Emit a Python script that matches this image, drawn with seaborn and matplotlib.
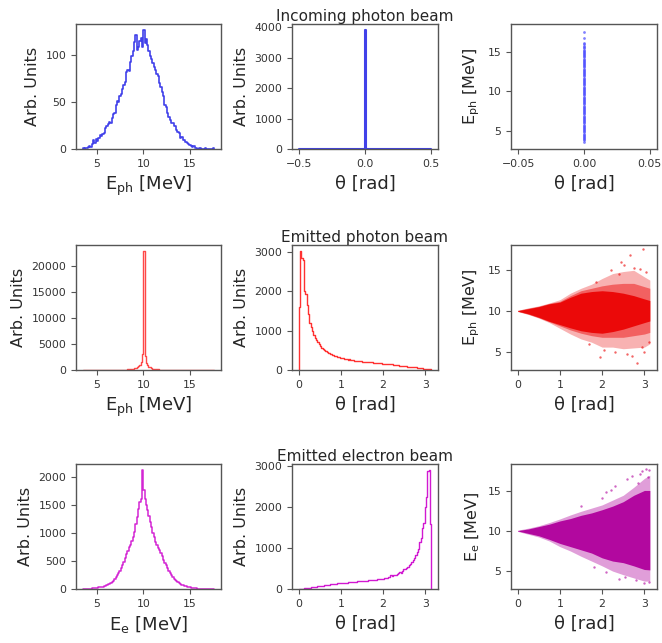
import numpy as np
import matplotlib
matplotlib.use("Agg")
import matplotlib.pyplot as plt
import seaborn as sns

# ---------------- data ----------------
# energy binning (MeV) used by all energy histograms
E_range = (3.5, 17.6)
n_bins = 100
theta_range = (0.0, 3.1416)
theta_in_range = (-0.5, 0.5)

# Incoming photon beam: energy histogram counts
E_ph_in_counts = [
    1, 0, 1, 1, 2, 3, 2, 5, 9, 6,
    11, 8, 12, 15, 14, 16, 17, 22, 24, 26,
    29, 28, 33, 37, 38, 47, 51, 50, 56, 58,
    63, 68, 71, 81, 84, 83, 92, 98, 104, 113,
    121, 105, 108, 114, 117, 108, 126, 112, 116, 110,
    104, 98, 95, 91, 87, 84, 79, 77, 70, 66,
    60, 56, 47, 44, 38, 34, 31, 28, 27, 24,
    24, 20, 18, 17, 12, 13, 10, 9, 7, 6,
    5, 4, 3, 2, 3, 1, 1, 0, 1, 1,
    0, 0, 0, 1, 0, 0, 0, 0, 0, 1,
]
# Incoming photon beam: all photons at theta = 0
theta_ph_in_peak = 3910

# Emitted photon beam: energy histogram counts
E_ph_out_counts = [
    0, 0, 0, 0, 0, 0, 0, 0, 0, 0,
    0, 0, 0, 0, 0, 0, 0, 0, 0, 0,
    0, 0, 0, 0, 0, 0, 0, 0, 20, 30,
    40, 50, 60, 80, 100, 120, 150, 190, 240, 310,
    400, 520, 700, 1000, 1600, 3100, 22900, 2700, 1400, 900,
    650, 480, 360, 280, 220, 170, 130, 100, 80, 60,
    45, 35, 25, 15, 10, 5, 3, 2, 1, 0,
    0, 0, 0, 0, 0, 0, 0, 0, 0, 0,
    0, 0, 0, 0, 0, 0, 0, 0, 0, 0,
    0, 0, 0, 0, 0, 0, 0, 0, 0, 0,
]
# Emitted photon beam: theta histogram counts
theta_ph_out_counts = [
    1600, 3020, 2830, 2800, 2000, 1920, 1650, 1420, 1200, 1080,
    980, 900, 820, 770, 700, 660, 610, 560, 530, 500,
    470, 450, 430, 420, 400, 385, 375, 365, 350, 340,
    320, 315, 300, 295, 290, 280, 270, 265, 275, 255,
    250, 260, 240, 235, 230, 235, 225, 220, 215, 215,
    210, 205, 200, 200, 195, 190, 185, 185, 180, 175,
    170, 170, 165, 160, 160, 155, 150, 150, 145, 140,
    140, 135, 130, 125, 120, 118, 112, 108, 105, 100,
    98, 92, 88, 84, 80, 75, 72, 68, 64, 60,
    55, 50, 45, 40, 35, 30, 25, 20, 17, 15,
]

# Emitted electron beam: energy histogram counts
E_e_counts = [
    0, 1, 0, 2, 3, 5, 6, 10, 14, 20,
    24, 25, 28, 34, 38, 42, 50, 58, 68, 80,
    92, 105, 125, 150, 175, 210, 250, 285, 320, 370,
    420, 480, 560, 620, 680, 740, 780, 850, 920, 1020,
    1150, 1280, 1420, 1540, 1600, 2118, 1760, 1600, 1500, 1400,
    1300, 1200, 1100, 1000, 920, 840, 780, 730, 700, 640,
    580, 520, 470, 420, 370, 320, 290, 250, 215, 185,
    160, 140, 120, 105, 90, 78, 68, 58, 50, 42,
    36, 30, 25, 20, 16, 12, 10, 8, 6, 5,
    4, 3, 2, 2, 1, 2, 1, 0, 1, 1,
]
# Emitted electron beam: theta histogram counts
theta_e_counts = [
    1, 3, 6, 10, 15, 20, 25, 30, 35, 40,
    45, 50, 55, 60, 65, 70, 75, 80, 85, 90,
    95, 100, 104, 108, 112, 118, 122, 125, 130, 135,
    140, 145, 148, 150, 152, 155, 158, 162, 175, 168,
    170, 172, 178, 180, 195, 185, 188, 192, 195, 198,
    200, 205, 210, 215, 218, 220, 215, 228, 232, 235,
    240, 245, 250, 245, 265, 275, 280, 290, 300, 330,
    320, 330, 340, 350, 370, 380, 420, 400, 440, 480,
    500, 510, 540, 580, 610, 650, 700, 760, 820, 900,
    980, 1150, 1250, 1500, 1620, 2000, 2260, 2880, 2912, 1600,
]

# Scatter clouds: envelopes of E vs theta (dense core, medium band, sparse halo)
cloud_theta = [0.0, 0.25, 0.5, 0.75, 1.0, 1.25, 1.5, 1.75, 2.0, 2.25, 2.5, 2.75, 3.0, 3.13]
ph_core_hi = [10.05, 10.3, 10.55, 10.9, 11.1, 11.7, 12.2, 12.4, 12.5, 12.4, 12.2, 11.9, 11.5, 11.3]
ph_core_lo = [10.0, 9.68, 9.25, 8.75, 8.35, 7.95, 7.6, 7.4, 7.3, 7.5, 7.8, 8.2, 8.6, 8.8]
ph_mid_hi = [10.1, 10.35, 10.6, 10.95, 11.2, 11.9, 12.5, 12.8, 13.1, 13.3, 13.4, 13.4, 13.0, 12.8]
ph_mid_lo = [9.98, 9.63, 9.2, 8.7, 8.2, 7.7, 7.3, 7.0, 6.8, 6.8, 6.8, 7.0, 7.2, 7.4]
ph_halo_hi = [10.1, 10.4, 10.65, 11.0, 11.4, 12.2, 12.8, 13.3, 14.0, 14.6, 14.85, 15.0, 14.2, 13.8]
ph_halo_lo = [9.95, 9.6, 9.15, 8.6, 7.9, 7.2, 6.6, 6.2, 5.6, 5.6, 5.4, 5.5, 5.6, 6.0]
ph_out_theta = [2.98, 2.66, 2.44, 2.52, 2.20, 2.75, 2.90, 3.05, 1.96, 2.82, 2.30, 2.60, 1.70, 2.05, 2.95, 3.10, 2.40, 1.85, 2.70, 3.00]
ph_out_E = [17.6, 16.9, 16.0, 15.6, 15.0, 15.3, 15.1, 14.8, 4.4, 3.6, 5.0, 4.8, 6.0, 5.3, 5.6, 6.2, 14.6, 13.6, 4.5, 5.0]

e_core_hi = [10.1, 10.3, 10.6, 10.9, 11.3, 11.6, 12.0, 12.3, 12.7, 13.15, 13.7, 14.5, 15.1, 15.1]
e_core_lo = [10.05, 9.75, 9.45, 9.0, 8.5, 8.1, 7.7, 7.3, 6.7, 6.3, 6.1, 5.7, 5.25, 5.2]
e_halo_hi = [10.15, 10.4, 10.7, 11.1, 11.55, 12.05, 12.5, 12.9, 13.3, 13.9, 14.5, 15.5, 16.6, 17.0]
e_halo_lo = [10.0, 9.65, 9.3, 8.8, 8.1, 7.55, 6.9, 6.3, 5.7, 5.05, 4.6, 4.2, 3.8, 3.8]
e_out_theta = [3.05, 3.10, 2.95, 2.90, 2.60, 2.30, 2.10, 2.00, 3.00, 2.80, 2.40, 2.10, 1.80, 3.12, 2.70, 1.50, 2.85, 3.08, 2.55, 2.20]
e_out_E = [17.8, 17.6, 17.5, 17.2, 16.5, 15.6, 14.9, 14.1, 3.6, 3.9, 4.1, 4.9, 5.6, 3.7, 16.9, 13.2, 16.0, 16.8, 4.3, 15.2]

titles = ["Incoming photon beam", "Emitted photon beam", "Emitted electron beam"]

# ---------------- style ----------------
sns.set_style("ticks")
plt.rcParams["font.family"] = ["DejaVu Sans"]
plt.rcParams.update({
    "axes.edgecolor": "#555555",
    "axes.linewidth": 1.0,
    "xtick.color": "#555555",
    "ytick.color": "#555555",
    "xtick.labelcolor": "#333333",
    "ytick.labelcolor": "#333333",
    "xtick.labelsize": 7.8,
    "ytick.labelsize": 7.8,
    "xtick.major.size": 3.5,
    "ytick.major.size": 3.5,
})

BLUE = "#1f1fe6"
RED = "#ff1a1a"
MAG = "#cc00cc"
MAG_CLOUD = "#b0009c"
RED_CLOUD = "#eb0000"

fig = plt.figure(figsize=(6.62, 6.43), dpi=100)
lefts = [0.1148, 0.4411, 0.7719]
widths = [0.2190, 0.2205, 0.2205]
bottoms = [0.7683, 0.4246, 0.0840]
h = 0.1944
axs = [[fig.add_axes([lefts[c], bottoms[r], widths[c], h]) for c in range(3)] for r in range(3)]


def step_hist(ax, lo, hi, counts, color, lw=1.2, alpha=0.85):
    """Step outline of a histogram (like matplotlib histtype='step')."""
    counts = np.asarray(counts, dtype=float)
    edges = np.linspace(lo, hi, len(counts) + 1)
    xs = np.concatenate([[edges[0]], edges, [edges[-1]]])
    ys = np.concatenate([[0.0], counts, [counts[-1]], [0.0]])
    sns.lineplot(x=xs, y=ys, drawstyle="steps-post", estimator=None, sort=False,
                 color=color, linewidth=lw, alpha=alpha, ax=ax)
    ax.set_ylim(0, counts.max() * 1.05)


def xl(ax, text):
    ax.set_xlabel(text, fontsize=13, labelpad=4)


def yl(ax, text):
    ax.set_ylabel(text, fontsize=11.5, labelpad=4)


E_xlim = (2.795, 18.305)
th_xlim = (-0.157, 3.299)

# Row 1: incoming photons
ax = axs[0][0]
step_hist(ax, *E_range, E_ph_in_counts, BLUE)
ax.set_xlim(*E_xlim)
ax.set_xticks([5, 10, 15]); ax.set_yticks([0, 50, 100])
xl(ax, r"E$_{\mathregular{ph}}$ [MeV]"); yl(ax, "Arb. Units")

ax = axs[0][1]
th_in_counts = np.zeros(n_bins)
th_in_counts[n_bins // 2] = theta_ph_in_peak
step_hist(ax, *theta_in_range, th_in_counts, BLUE, lw=1.5)
ax.set_xlim(-0.55, 0.55)
ax.set_xticks([-0.5, 0.0, 0.5]); ax.set_yticks([0, 1000, 2000, 3000, 4000])
xl(ax, "θ [rad]"); yl(ax, "Arb. Units")

ax = axs[0][2]
E_edges = np.linspace(*E_range, n_bins + 1)
E_centers = 0.5 * (E_edges[:-1] + E_edges[1:])
mask = np.asarray(E_ph_in_counts) > 0
sns.scatterplot(x=np.zeros(mask.sum()), y=E_centers[mask], s=4, color="#4d4dff",
                alpha=0.7, linewidth=0, ax=ax)
ax.set_xlim(-0.0555, 0.0555); ax.set_ylim(2.75, 18.5)
ax.set_xticks([-0.05, 0.0, 0.05]); ax.set_yticks([5, 10, 15])
xl(ax, "θ [rad]"); yl(ax, r"E$_{\mathregular{ph}}$ [MeV]")

# Row 2: emitted photons
ax = axs[1][0]
step_hist(ax, *E_range, E_ph_out_counts, RED, lw=1.0, alpha=0.8)
ax.set_xlim(*E_xlim)
ax.set_xticks([5, 10, 15]); ax.set_yticks([0, 5000, 10000, 15000, 20000])
xl(ax, r"E$_{\mathregular{ph}}$ [MeV]"); yl(ax, "Arb. Units")

ax = axs[1][1]
step_hist(ax, *theta_range, theta_ph_out_counts, RED, lw=1.0, alpha=0.9)
ax.set_xlim(*th_xlim)
ax.set_xticks([0, 1, 2, 3]); ax.set_yticks([0, 1000, 2000, 3000])
xl(ax, "θ [rad]"); yl(ax, "Arb. Units")

ax = axs[1][2]
ax.fill_between(cloud_theta, ph_halo_lo, ph_halo_hi, color=RED_CLOUD, alpha=0.3, linewidth=0)
ax.fill_between(cloud_theta, ph_mid_lo, ph_mid_hi, color=RED_CLOUD, alpha=0.45, linewidth=0)
ax.fill_between(cloud_theta, ph_core_lo, ph_core_hi, color=RED_CLOUD, alpha=0.9, linewidth=0)
sns.scatterplot(x=ph_out_theta, y=ph_out_E, s=3, color=RED_CLOUD, alpha=0.6, linewidth=0, ax=ax)
ax.set_xlim(*th_xlim); ax.set_ylim(2.8, 18.1)
ax.set_xticks([0, 1, 2, 3]); ax.set_yticks([5, 10, 15])
xl(ax, "θ [rad]"); yl(ax, r"E$_{\mathregular{ph}}$ [MeV]")

# Row 3: emitted electrons
ax = axs[2][0]
step_hist(ax, *E_range, E_e_counts, MAG, lw=1.1, alpha=0.85)
ax.set_xlim(*E_xlim)
ax.set_xticks([5, 10, 15]); ax.set_yticks([0, 500, 1000, 1500, 2000])
xl(ax, r"E$_{\mathregular{e}}$ [MeV]"); yl(ax, "Arb. Units")

ax = axs[2][1]
step_hist(ax, *theta_range, theta_e_counts, MAG, lw=1.0, alpha=0.9)
ax.set_xlim(*th_xlim)
ax.set_xticks([0, 1, 2, 3]); ax.set_yticks([0, 1000, 2000, 3000])
xl(ax, "θ [rad]"); yl(ax, "Arb. Units")

ax = axs[2][2]
ax.fill_between(cloud_theta, e_halo_lo, e_halo_hi, color=MAG_CLOUD, alpha=0.38, linewidth=0)
ax.fill_between(cloud_theta, e_core_lo, e_core_hi, color=MAG_CLOUD, alpha=0.95, linewidth=0)
sns.scatterplot(x=e_out_theta, y=e_out_E, s=3, color=MAG_CLOUD, alpha=0.6, linewidth=0, ax=ax)
ax.set_xlim(*th_xlim); ax.set_ylim(2.82, 18.4)
ax.set_xticks([0, 1, 2, 3]); ax.set_yticks([5, 10, 15])
xl(ax, "θ [rad]"); yl(ax, r"E$_{\mathregular{e}}$ [MeV]")

for r in range(3):
    axs[r][1].set_title(titles[r], fontsize=11, pad=2.5)
    for c in range(3):
        for s in axs[r][c].spines.values():
            s.set_visible(True)

fig.savefig("out.png", dpi=100)
